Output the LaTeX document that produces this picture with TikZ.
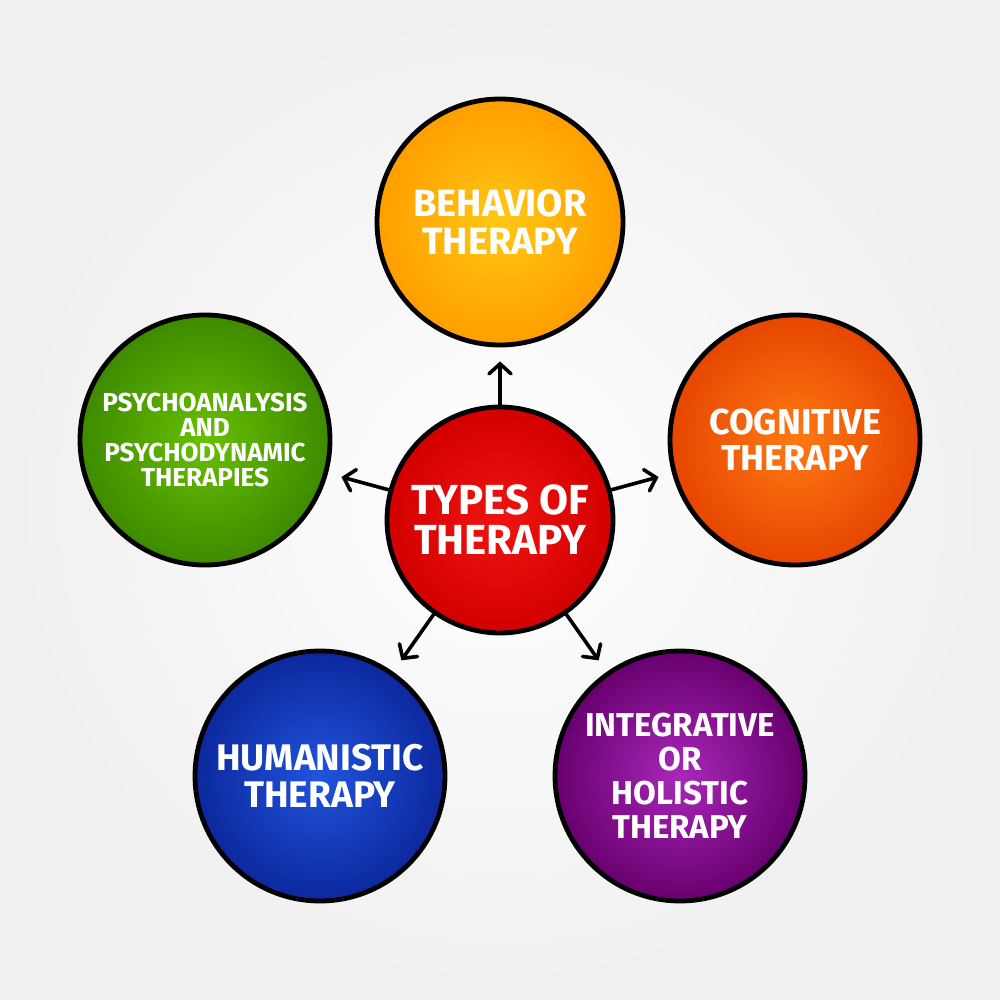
\documentclass[tikz,border=0pt]{standalone}
\usepackage{fontspec}
\setmainfont{Fira Sans}
\usetikzlibrary{arrows.meta,positioning}

\definecolor{behin}{RGB}{255,200,20}
\definecolor{behout}{RGB}{255,158,0}
\definecolor{cogin}{RGB}{255,122,20}
\definecolor{cogout}{RGB}{230,70,0}
\definecolor{psyin}{RGB}{104,192,0}
\definecolor{psyout}{RGB}{62,138,0}
\definecolor{humin}{RGB}{32,84,220}
\definecolor{humout}{RGB}{12,40,158}
\definecolor{intin}{RGB}{168,40,186}
\definecolor{intout}{RGB}{104,0,110}
\definecolor{typin}{RGB}{240,20,16}
\definecolor{typout}{RGB}{210,0,0}

\begin{document}
\begin{tikzpicture}
	 [scale =1]
	\tikzstyle{topic}=[circle,line width=2.4pt,draw=black,text=white,font=\bfseries,align=center,inner sep=0pt]
	\tikzstyle{link}=[line width=1.8pt,draw=black,shorten >=7pt,-{Straight Barb[length=5pt,width=11pt,line cap=round]}]
	% background
	\shade [inner color=white,outer color=black!6] (0 pt,0 pt) rectangle (500.0 pt,-500.0 pt);
	\useasboundingbox (0 pt,0 pt) rectangle (500.0 pt,-500.0 pt);
	\node [topic,minimum size=113.0 pt,inner color=typin,outer color=typout,font=\bfseries\fontsize{21}{20}\selectfont] (types) at (250.0 pt,-260.0 pt){TYPES OF\\THERAPY};
	\node [topic,minimum size=123.0 pt,inner color=behin,outer color=behout,font=\bfseries\fontsize{19}{19}\selectfont] (beh) at (250.0 pt,-111.0 pt){BEHAVIOR\\THERAPY};
	\node [topic,minimum size=125.0 pt,inner color=cogin,outer color=cogout,font=\bfseries\fontsize{18}{18}\selectfont] (cog) at (397.5 pt,-220.0 pt){COGNITIVE\\THERAPY};
	\node [topic,minimum size=125.0 pt,inner color=psyin,outer color=psyout,font=\bfseries\fontsize{13}{12.5}\selectfont] (psy) at (102.5 pt,-220.0 pt){PSYCHOANALYSIS\\AND\\PSYCHODYNAMIC\\THERAPIES};
	\node [topic,minimum size=125.0 pt,inner color=humin,outer color=humout,font=\bfseries\fontsize{18.5}{18.5}\selectfont] (hum) at (160.0 pt,-388.0 pt){HUMANISTIC\\THERAPY};
	\node [topic,minimum size=125.0 pt,inner color=intin,outer color=intout,font=\bfseries\fontsize{16.5}{17}\selectfont] (integ) at (340.0 pt,-388.0 pt){INTEGRATIVE\\OR\\HOLISTIC\\THERAPY};
	\draw[link] (types) edge  (beh) ;
	\draw[link] (types) edge  (cog) ;
	\draw[link] (types) edge  (psy) ;
	\draw[link] (types) edge  (hum) ;
	\draw[link] (types) edge  (integ) ;
\end{tikzpicture}
\end{document}
